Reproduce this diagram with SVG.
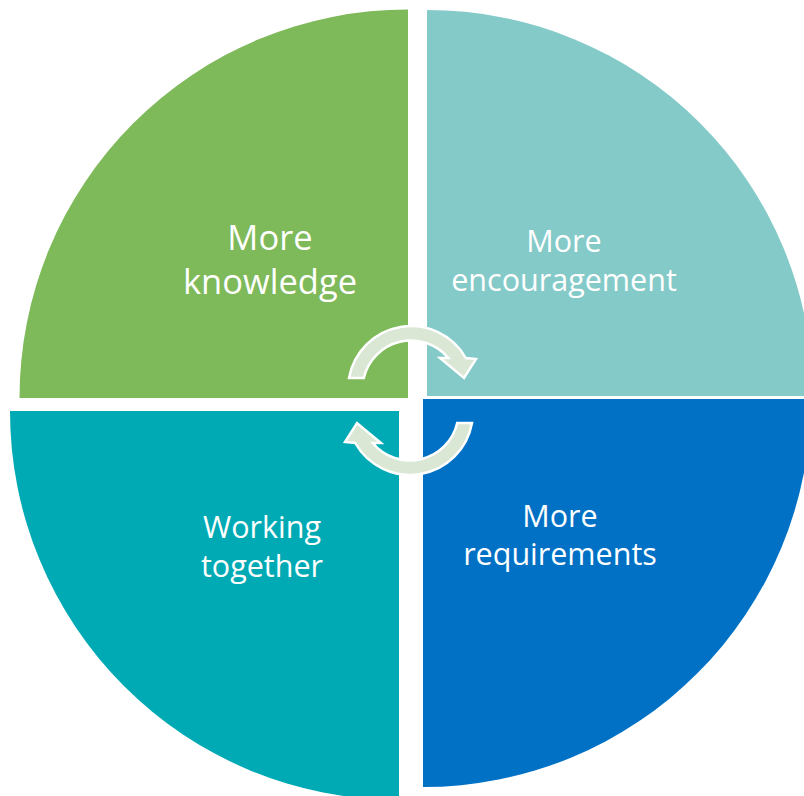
<svg xmlns="http://www.w3.org/2000/svg" width="804" height="796" viewBox="0 0 804 796">
<style>
  .lbl { font-family: "Open Sans", "Noto Sans", "DejaVu Sans", sans-serif; fill: #FFFFFF; text-anchor: middle; }
  .arrow { fill: #DAE7D4; stroke: #FFFFFF; stroke-width: 2.5; stroke-linejoin: miter; }
</style>
<rect width="804" height="796" fill="#FFFFFF"/>
<g id="knowledge">
  <path d="M 408,398 L 19.5,398 A 388.5 388.5 0 0 1 408,9.5 Z" fill="#7EB95A"/>
  <text class="lbl" x="270" y="250" font-size="34.5">More</text>
  <text class="lbl" x="270" y="294" font-size="34.5">knowledge</text>
</g>
<g id="encouragement">
  <path d="M 427,396 L 427,10 A 386 386 0 0 1 813,396 Z" fill="#84CAC9"/>
  <text class="lbl" x="564" y="252" font-size="30.5">More</text>
  <text class="lbl" x="564" y="291" font-size="30.5">encouragement</text>
</g>
<g id="working">
  <path d="M 399,411 L 10,411 A 389 389 0 0 0 399,800 Z" fill="#00AAB4"/>
  <text class="lbl" x="262" y="538" font-size="30.5">Working</text>
  <text class="lbl" x="262" y="577" font-size="30.5">together</text>
</g>
<g id="requirements">
  <path d="M 423,399 L 811,399 A 388 388 0 0 1 423,787 Z" fill="#0071C4"/>
  <text class="lbl" x="560" y="527" font-size="30.5">More</text>
  <text class="lbl" x="560" y="565" font-size="30.5">requirements</text>
</g>
<g id="connectors">
  <path id="arrow-top" class="arrow" d="M 349,378 A 63 63 0 0 1 465.8,358 L 476,359 L 464,378 L 440,358 L 448.3,358 A 48.5 48.5 0 0 0 363.8,378 Z"/>
  <path id="arrow-bottom" class="arrow" transform="rotate(180 410.5 400.5)" d="M 349,378 A 63 63 0 0 1 465.8,358 L 476,359 L 464,378 L 440,358 L 448.3,358 A 48.5 48.5 0 0 0 363.8,378 Z"/>
</g>
</svg>
